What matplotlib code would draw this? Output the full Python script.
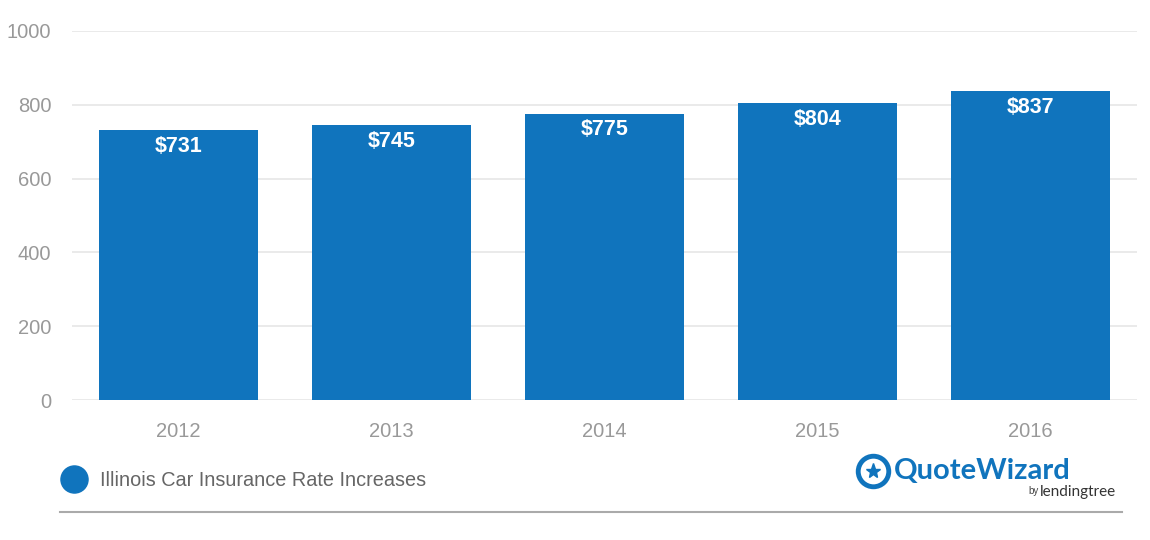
import matplotlib
matplotlib.use("Agg")
import matplotlib.pyplot as plt
from matplotlib.lines import Line2D

years = ["2012", "2013", "2014", "2015", "2016"]
rates = [731, 745, 775, 804, 837]
bar_labels = ["$731", "$745", "$775", "$804", "$837"]
y_ticks = [0, 200, 400, 600, 800, 1000]
series_name = "Illinois Car Insurance Rate Increases"

BLUE = "#1074bd"
W, H = 1150, 540
fig = plt.figure(figsize=(W / 100, H / 100), dpi=100)
plt.rcParams['font.family'] = ['Liberation Sans', 'DejaVu Sans']

ax = fig.add_axes([72 / W, 1 - 400 / H, (1137 - 72) / W, (400 - 31) / H])
x = list(range(len(years)))
ax.bar(x, rates, width=0.745, color=BLUE, zorder=3)
ax.set_xlim(-0.5, len(years) - 0.5)
ax.set_ylim(0, 1000)
ax.set_yticks(y_ticks)
ax.set_yticklabels([str(t) for t in y_ticks])
ax.set_xticks(x)
ax.set_xticklabels(years)
ax.tick_params(axis='both', length=0, colors="#999999", labelsize=14.5)
ax.tick_params(axis='y', pad=15)
ax.tick_params(axis='x', pad=16)
ax.grid(axis='y', color="#e6e6e6", linewidth=1.2, zorder=0)
for s in ax.spines.values():
    s.set_visible(False)

for xi, v, lab in zip(x, rates, bar_labels):
    ax.annotate(lab, (xi, v), xytext=(0, -11.5), textcoords="offset points",
                ha='center', va='center', color='white', fontsize=15.5,
                fontweight='bold', zorder=4)

# legend
fig.add_artist(Line2D([74 / W], [1 - 479 / H], marker='o', markersize=19.5,
                      color=BLUE, transform=fig.transFigure, linestyle='none'))
fig.text(100 / W, 1 - 480 / H, series_name, ha='left', va='center',
         color="#666666", fontsize=14.3)

# bottom rule
fig.add_artist(Line2D([60 / W, 1122 / W], [1 - 512 / H, 1 - 512 / H],
                      color="#aaaaaa", linewidth=1.5, transform=fig.transFigure))

# logo
fig.add_artist(Line2D([873 / W], [1 - 471 / H], marker='o', markersize=22,
                      markerfacecolor='none', markeredgecolor=BLUE, markeredgewidth=3.5,
                      transform=fig.transFigure, linestyle='none'))
fig.add_artist(Line2D([873 / W], [1 - 471 / H], marker='*', markersize=11,
                      color=BLUE, transform=fig.transFigure, linestyle='none'))
fig.text(894 / W, 1 - 471 / H, "QuoteWizard", ha='left', va='center',
         color=BLUE, fontsize=21, fontweight='bold', family=['Lato', 'DejaVu Sans'])
fig.text(1028 / W, 1 - 491 / H, "by", ha='left', va='center',
         color="#444444", fontsize=7)
fig.text(1040 / W, 1 - 492 / H, "lendingtree", ha='left', va='center',
         color="#333333", fontsize=11, family=['Lato', 'DejaVu Sans'])

fig.savefig("out.png", dpi=100, facecolor='white')
